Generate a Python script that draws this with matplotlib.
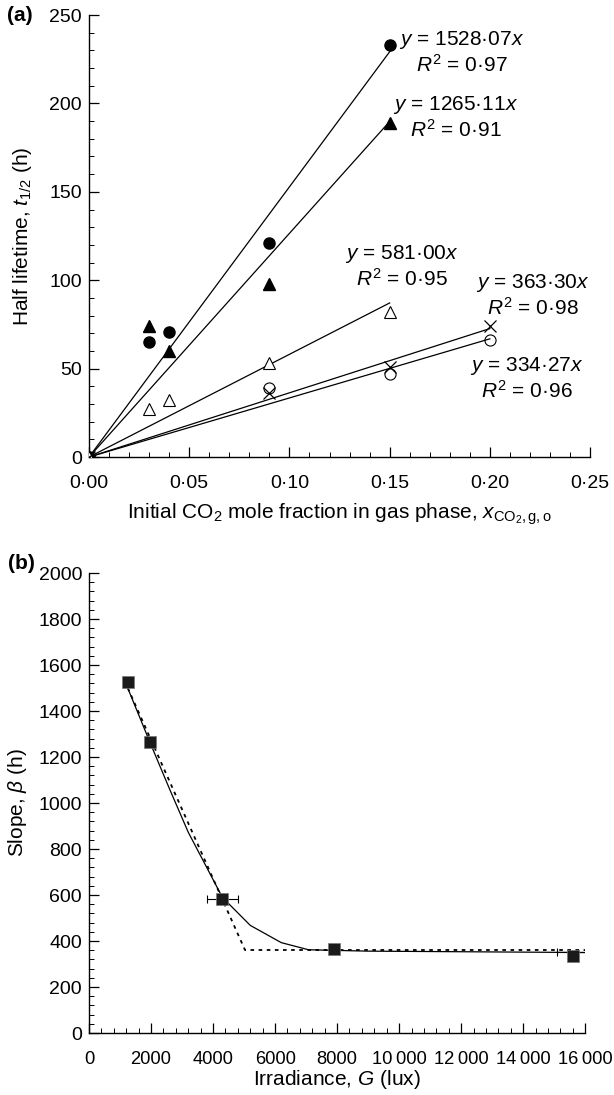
import numpy as np
import matplotlib
matplotlib.use("Agg")
import matplotlib.pyplot as plt
from matplotlib.ticker import MultipleLocator

plt.rcParams['font.family'] = ['Liberation Sans', 'DejaVu Sans']
plt.rcParams['mathtext.fontset'] = 'custom'
plt.rcParams['mathtext.rm'] = 'Liberation Sans'
plt.rcParams['mathtext.it'] = 'Liberation Sans:italic'
plt.rcParams['mathtext.bf'] = 'Liberation Sans:bold'

# (a) half lifetime vs initial CO2 mole fraction
x_fc = [0, 0.03, 0.04, 0.09, 0.15]          # filled circles
y_fc = [0, 65, 71, 121, 233]
x_ft = [0, 0.03, 0.04, 0.09, 0.15]          # filled triangles
y_ft = [0, 74, 60, 98, 189]
x_ot = [0, 0.03, 0.04, 0.09, 0.15]          # open triangles
y_ot = [0, 27, 32, 53, 82]
x_cr = [0, 0.09, 0.15, 0.20]                # crosses
y_cr = [0, 36, 51, 74]
x_oc = [0, 0.09, 0.15, 0.20]                # open circles
y_oc = [0, 39, 47, 66]

slopes = [1528.07, 1265.11, 581.00, 363.30, 334.27]
r2 = ['0·97', '0·91', '0·95', '0·98', '0·96']
slope_txt = ['1528·07', '1265·11', '581·00', '363·30', '334·27']
fit_end = [0.152, 0.15, 0.15, 0.20, 0.20]
lab_x = [0.186, 0.183, 0.156, 0.2215, 0.2186]
lab_y = [236, 199, 115, 98.5, 51.5]

xt_a = [0, 0.05, 0.10, 0.15, 0.20, 0.25]
xt_a_lab = ['0·00', '0·05', '0·10', '0·15', '0·20', '0·25']
yt_a = [0, 50, 100, 150, 200, 250]

# (b) slope vs irradiance
G = [1250, 1970, 4300, 7910, 15600]
beta = [1528.07, 1265.11, 581.00, 363.30, 334.27]
G_err = [0, 80, 500, 0, 500]
G_err_y = [1528, 1265, 581, 363, 352]
fit_G = [1260, 1970, 2600, 3200, 4300, 5200, 6200, 7080, 9000, 16000]
fit_b = [1496, 1262, 1060, 873, 590, 468, 393, 362, 356, 350]
dot_G = [1250, 5030, 16000]
dot_b = [1500, 361, 361]
xt_b = [0, 2000, 4000, 6000, 8000, 10000, 12000, 14000, 16000]
xt_b_lab = ['0', '2000', '4000', '6000', '8000', '10\u2009000', '12\u2009000', '14\u2009000', '16\u2009000']
yt_b = [0, 200, 400, 600, 800, 1000, 1200, 1400, 1600, 1800, 2000]

fs = 14
fl = 15
fig = plt.figure(figsize=(6.14, 10.95), dpi=100)

ax = fig.add_axes([0.145, 0.5826, 0.816, 0.4037])
for s, e in zip(slopes, fit_end):
    ax.plot([0, e], [0, s * e], color='black', lw=0.9, zorder=2)
ax.plot(x_fc, y_fc, 'o', color='black', ms=8, zorder=3)
ax.plot(x_ft, y_ft, '^', color='black', ms=8, zorder=3)
ax.plot(x_ot, y_ot, '^', mfc='white', mec='black', mew=0.8, ms=8, zorder=3)
ax.plot(x_cr, y_cr, 'x', color='black', mew=0.9, ms=9, zorder=3)
ax.plot(x_oc, y_oc, 'o', mfc='none', mec='black', mew=0.8, ms=8, zorder=3)
for i in range(5):
    ax.text(lab_x[i], lab_y[i], '$y$ = ' + slope_txt[i] + '$x$', ha='center', va='center', fontsize=fl)
    ax.text(lab_x[i], lab_y[i] - 14, r'$R^{\mathrm{2}}$ = ' + r2[i], ha='center', va='center', fontsize=fl)

ax.set_xlim(0, 0.25)
ax.set_ylim(0, 250)
ax.set_xticks(xt_a)
ax.set_xticklabels(xt_a_lab)
ax.set_yticks(yt_a)
ax.xaxis.set_minor_locator(MultipleLocator(0.01))
ax.yaxis.set_minor_locator(MultipleLocator(10))
ax.set_xlabel('Initial CO$_2$ mole fraction in gas phase, $x_{\mathrm{CO_2,g,o}}$', fontsize=fl, labelpad=7)
ax.set_ylabel('Half lifetime, $t_{1/2}$ (h)', fontsize=fl, labelpad=11)
ax.text(-0.163, 1.0, '(a)', transform=ax.transAxes, fontsize=fl, fontweight='bold', va='center')

ax2 = fig.add_axes([0.145, 0.0566, 0.808, 0.4201])
ax2.plot(fit_G, fit_b, color='black', lw=0.9, zorder=2)
ax2.plot(dot_G, dot_b, color='black', lw=1.3, ls=(0, (2, 2.5)), zorder=2)
ax2.errorbar(G, G_err_y, xerr=G_err, fmt='none', ecolor='black', elinewidth=0.8, capsize=3, capthick=0.8, zorder=3)
ax2.plot(G, beta, 's', color='#1a1a1a', mec='#777777', mew=0.5, ms=8, zorder=4)
ax2.set_xlim(0, 16000)
ax2.set_ylim(0, 2000)
ax2.set_xticks(xt_b)
ax2.set_xticklabels(xt_b_lab)
ax2.set_yticks(yt_b)
ax2.xaxis.set_minor_locator(MultipleLocator(400))
ax2.yaxis.set_minor_locator(MultipleLocator(40))
ax2.set_xlabel('Irradiance, $G$ (lux)', fontsize=fl, labelpad=0)
ax2.set_ylabel(r'Slope, $\beta$ (h)', fontsize=fl, labelpad=7)
ax2.text(-0.163, 1.02, '(b)', transform=ax2.transAxes, fontsize=fl, fontweight='bold', va='center')

for a in (ax, ax2):
    a.spines['top'].set_visible(False)
    a.spines['right'].set_visible(False)
    a.spines['left'].set_linewidth(1.0)
    a.spines['bottom'].set_linewidth(1.0)
    a.tick_params(which='major', direction='in', length=7, width=0.9, labelsize=fs, pad=5)
    a.tick_params(axis='x', which='major', pad=13)
    a.tick_params(which='minor', direction='in', length=3.5, width=0.7)
ax2.tick_params(axis='x', which='major', labelsize=13.2)

fig.savefig('out.png', dpi=100)
